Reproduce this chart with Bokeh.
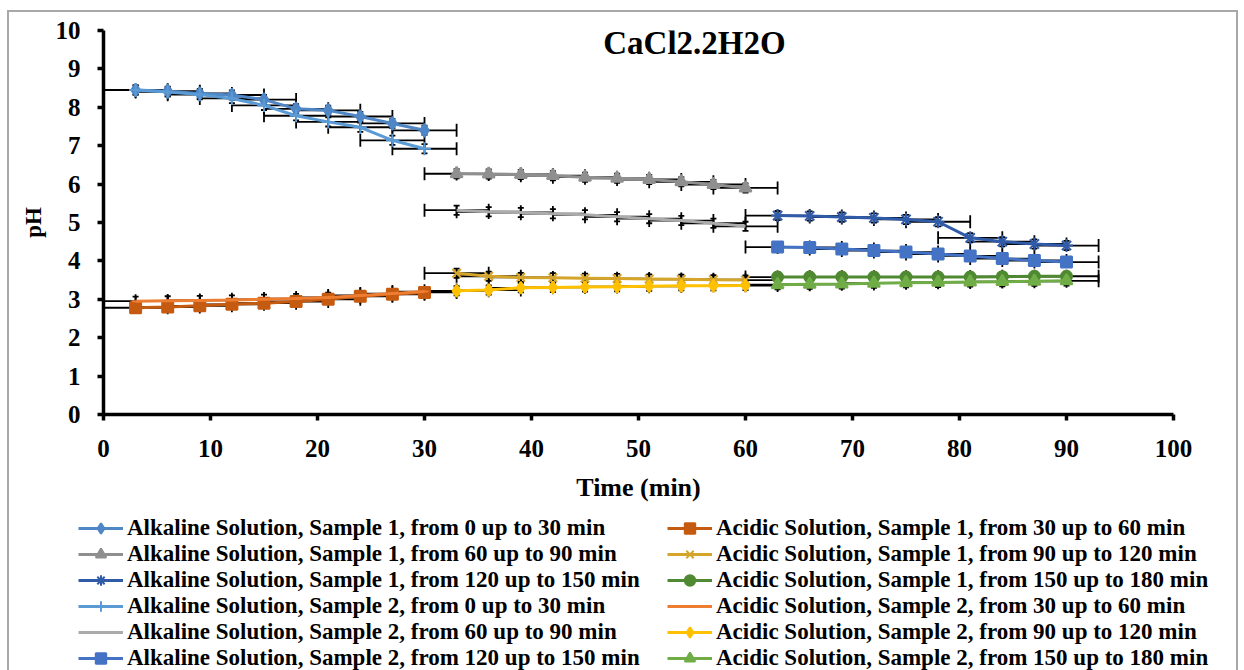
from bokeh.plotting import figure
from bokeh.layouts import column
from bokeh.models import (Legend, LegendItem, Whisker, ColumnDataSource, Label,
                          TeeHead, FixedTicker, Range1d)
from bokeh.embed import file_html
from bokeh.resources import INLINE

# ---------------- data ----------------
time_a = [3, 6, 9, 12, 15, 18, 21, 24, 27, 30]
time_b = [33, 36, 39, 42, 45, 48, 51, 54, 57, 60]
time_c = [63, 66, 69, 72, 75, 78, 81, 84, 87, 90]

alk_s1_0_30 = [8.45, 8.42, 8.36, 8.32, 8.20, 7.96, 7.92, 7.76, 7.58, 7.40]
alk_s1_60_90 = [6.27, 6.26, 6.25, 6.22, 6.18, 6.15, 6.12, 6.06, 5.99, 5.90]
alk_s1_120_150 = [5.18, 5.17, 5.14, 5.12, 5.08, 5.02, 4.60, 4.50, 4.44, 4.40]
alk_s2_0_30 = [8.45, 8.40, 8.33, 8.23, 8.05, 7.78, 7.62, 7.48, 7.14, 6.92]
alk_s2_60_90 = [5.32, 5.28, 5.26, 5.23, 5.20, 5.15, 5.10, 5.05, 4.98, 4.90]
alk_s2_120_150 = [4.36, 4.35, 4.31, 4.27, 4.23, 4.18, 4.13, 4.06, 4.01, 3.97]

acid_s1_30_60 = [2.78, 2.80, 2.83, 2.87, 2.90, 2.94, 3.00, 3.08, 3.13, 3.18]
acid_s1_90_120 = [3.68, 3.60, 3.57, 3.56, 3.55, 3.54, 3.53, 3.52, 3.51, 3.50]
acid_s1_150_180 = [3.58, 3.58, 3.58, 3.58, 3.58, 3.58, 3.58, 3.59, 3.60, 3.60]
acid_s2_30_60 = [2.95, 2.96, 2.97, 2.98, 3.00, 3.02, 3.05, 3.10, 3.15, 3.20]
acid_s2_90_120 = [3.22, 3.24, 3.30, 3.31, 3.32, 3.33, 3.34, 3.35, 3.35, 3.36]
acid_s2_150_180 = [3.38, 3.39, 3.40, 3.42, 3.43, 3.44, 3.45, 3.46, 3.47, 3.48]

x_error = 3.0
y_error = 0.12

x_ticks = [0, 10, 20, 30, 40, 50, 60, 70, 80, 90, 100]
y_ticks = [0, 1, 2, 3, 4, 5, 6, 7, 8, 9, 10]

alkaline_labels = [
    "Alkaline Solution, Sample 1, from 0 up to 30 min",
    "Alkaline Solution, Sample 1, from 60 up to 90 min",
    "Alkaline Solution, Sample 1, from 120 up to 150 min",
    "Alkaline Solution, Sample 2, from 0 up to 30 min",
    "Alkaline Solution, Sample 2, from 60 up to 90 min",
    "Alkaline Solution, Sample 2, from 120 up to 150 min",
]
acidic_labels = [
    "Acidic Solution, Sample 1, from 30 up to 60 min",
    "Acidic Solution, Sample 1, from 90 up to 120 min",
    "Acidic Solution, Sample 1, from 150 up to 180 min",
    "Acidic Solution, Sample 2, from 30 up to 60 min",
    "Acidic Solution, Sample 2, from 90 up to 120 min",
    "Acidic Solution, Sample 2, from 150 up to 180 min",
]

# (x, y, color, marker, size)
alkaline_series = [
    (time_a, alk_s1_0_30, "#4F86C6", "diamond", 13),
    (time_b, alk_s1_60_90, "#8F8F8F", "triangle", 12),
    (time_c, alk_s1_120_150, "#2F5BA8", "asterisk", 13),
    (time_a, alk_s2_0_30, "#5B9BD5", "cross", 13),
    (time_b, alk_s2_60_90, "#ABABAB", None, 0),
    (time_c, alk_s2_120_150, "#4472C4", "square", 11),
]
acidic_series = [
    (time_a, acid_s1_30_60, "#C55A11", "square", 11),
    (time_b, acid_s1_90_120, "#D4A52A", "x", 12),
    (time_c, acid_s1_150_180, "#4F8A32", "circle", 11),
    (time_a, acid_s2_30_60, "#ED7D31", "dash", 8),
    (time_b, acid_s2_90_120, "#FFC000", "diamond", 12),
    (time_c, acid_s2_150_180, "#70AD47", "triangle", 12),
]

FONT = "Liberation Serif"

# ---------------- main chart ----------------
p = figure(width=1244, height=510, x_range=(0, 100), y_range=(0, 10),
           output_backend="svg", toolbar_location=None,
           min_border_left=103, min_border_right=71,
           min_border_top=30, min_border_bottom=96)
p.frame_align = False
p.border_fill_color = None
p.outline_line_color = None
p.xgrid.visible = False
p.ygrid.visible = False

for ax in (p.xaxis[0], p.yaxis[0]):
    ax.axis_line_width = 3.5
    ax.axis_line_color = "black"
    ax.major_tick_line_width = 3.5
    ax.major_tick_line_color = "black"
    ax.major_tick_in = 0
    ax.major_tick_out = 6
    ax.minor_tick_line_color = None
    ax.major_label_text_font = FONT
    ax.major_label_text_font_style = "bold"
    ax.major_label_text_font_size = "25px"
    ax.major_label_text_color = "black"
    ax.axis_label_text_font = FONT
    ax.axis_label_text_font_style = "bold"
    ax.axis_label_text_color = "black"

p.xaxis.ticker = FixedTicker(ticks=x_ticks)
p.yaxis.ticker = FixedTicker(ticks=y_ticks)
p.xaxis.axis_label = "Time (min)"
p.yaxis.axis_label = "pH"
p.xaxis.axis_label_text_font_size = "26px"
p.yaxis.axis_label_text_font_size = "23px"
p.xaxis.major_label_standoff = 19
p.yaxis.major_label_standoff = 17
p.xaxis.axis_label_standoff = 13
p.yaxis.axis_label_standoff = 7

# error bars
for xs, ys, color, marker, size in alkaline_series + acidic_series:
    src = ColumnDataSource(dict(
        x=xs, y=ys,
        x_lo=[v - x_error for v in xs], x_hi=[v + x_error for v in xs],
        y_lo=[v - y_error for v in ys], y_hi=[v + y_error for v in ys],
    ))
    wx = Whisker(source=src, base="y", lower="x_lo", upper="x_hi", dimension="width",
                 line_color="black", line_width=1.8,
                 lower_head=TeeHead(size=13, line_color="black", line_width=1.8),
                 upper_head=TeeHead(size=13, line_color="black", line_width=1.8),
                 level="underlay")
    wy = Whisker(source=src, base="x", lower="y_lo", upper="y_hi", dimension="height",
                 line_color="black", line_width=1.8,
                 lower_head=TeeHead(size=6, line_color="black", line_width=1.8),
                 upper_head=TeeHead(size=6, line_color="black", line_width=1.8),
                 level="underlay")
    p.add_layout(wx)
    p.add_layout(wy)

for xs, ys, color, marker, size in alkaline_series + acidic_series:
    p.line(xs, ys, line_color=color, line_width=3)
    if marker:
        p.scatter(xs, ys, marker=marker, size=size,
                  fill_color=color, line_color=color, line_width=2)

p.add_layout(Label(x=591, y=372, x_units="screen", y_units="screen",
                   text="CaCl2.2H2O", text_font=FONT, text_font_style="bold",
                   text_font_size="33px", text_align="center",
                   text_baseline="middle", text_color="black"))

# ---------------- legend panel (same series, drawn off-range, keyed) ----------------
leg = figure(width=1244, height=160, x_range=Range1d(-20, -10), y_range=Range1d(-20, -10),
             output_backend="svg", toolbar_location=None,
             x_axis_location=None, y_axis_location=None,
             min_border=0, min_border_left=0, min_border_right=0,
             min_border_top=0, min_border_bottom=0)
leg.frame_align = False
leg.border_fill_color = None
leg.background_fill_color = None
leg.outline_line_color = None
leg.xgrid.visible = False
leg.ygrid.visible = False


def legend_items(series, labels):
    items = []
    for (xs, ys, color, marker, size), lab in zip(series, labels):
        rs = [leg.line(xs, ys, line_color=color, line_width=3)]
        if marker:
            rs.append(leg.scatter(xs, ys, marker=marker, size=size,
                                  fill_color=color, line_color=color, line_width=2))
        items.append(LegendItem(label=lab, renderers=rs))
    return items


for series, labels, loc in ((alkaline_series, alkaline_labels, (78, -1)),
                            (acidic_series, acidic_labels, (667, -1))):
    lg = Legend(items=legend_items(series, labels), location=loc,
                orientation="vertical",
                label_text_font=FONT, label_text_font_style="bold",
                label_text_font_size="23px", label_text_color="black",
                glyph_width=45, glyph_height=26, label_height=26,
                label_standoff=4, spacing=0, padding=0, margin=0,
                border_line_color=None, background_fill_alpha=0)
    leg.add_layout(lg, "center")

g = "linear-gradient(#a8a8a8,#a8a8a8)"
layout = column(p, leg, spacing=0, styles={
    "background": (f"{g} 7px 10px / 2px 100% no-repeat, "
                   f"{g} 1236px 10px / 2px 100% no-repeat, "
                   f"{g} 7px 10px / 1231px 2px no-repeat, white"),
})

open("out.html", "w").write(file_html(layout, INLINE))
